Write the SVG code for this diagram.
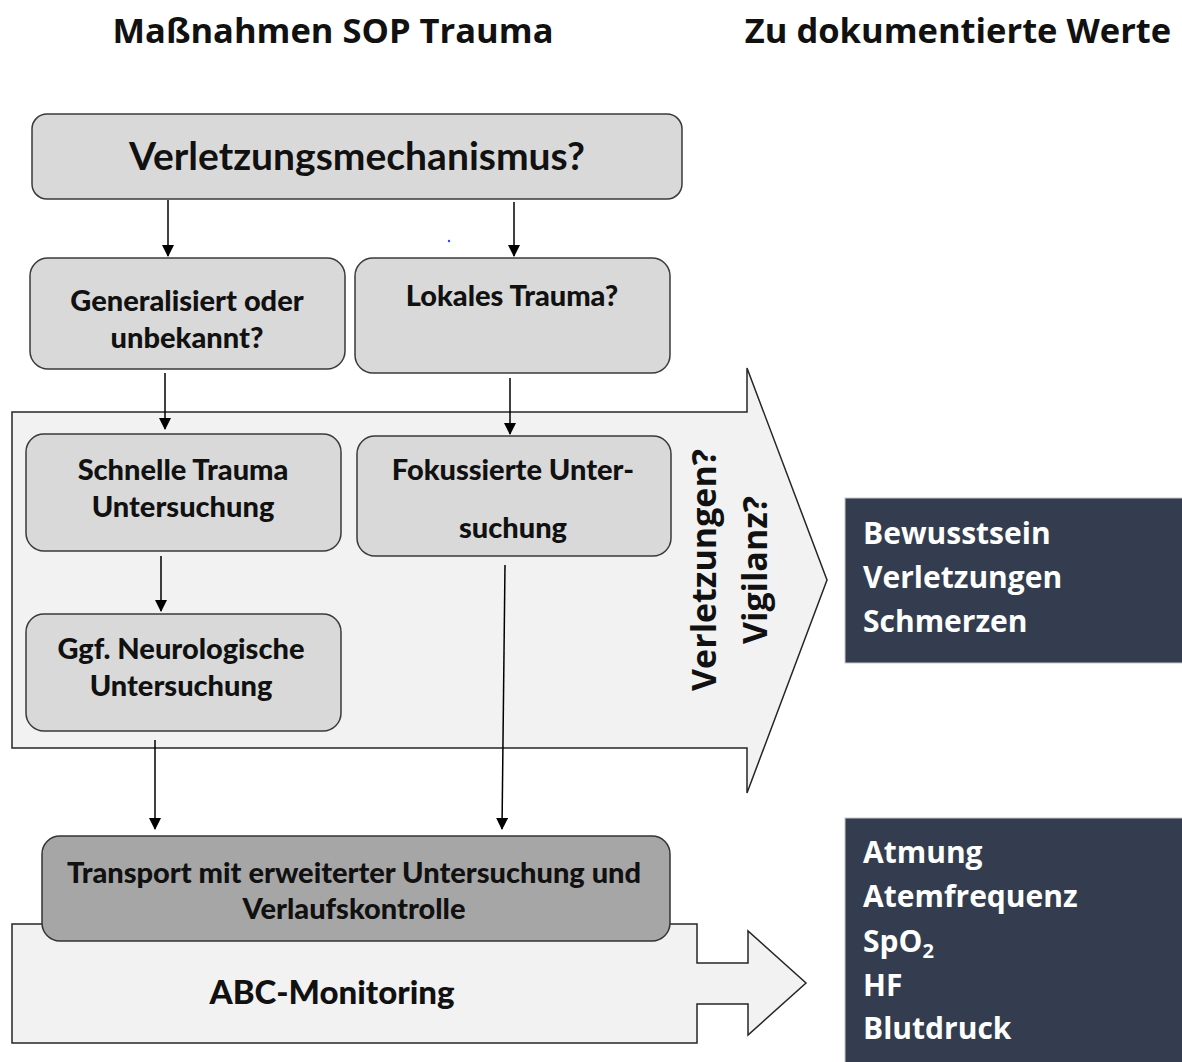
<svg xmlns="http://www.w3.org/2000/svg" width="1182" height="1062" viewBox="0 0 1182 1062">
<style>
.box{fill:#d9d9d9;stroke:#3a3a3a;stroke-width:1.5}
.big{fill:#f2f2f2;stroke:#262626;stroke-width:1.5}
.dark{fill:#333d4f;stroke:#c8c8c8;stroke-width:1}
.t{font-family:Lato,"Open Sans",sans-serif;font-weight:900;fill:#111;text-anchor:middle;font-size:29px}
.h{font-family:"Open Sans","Noto Sans",sans-serif;font-weight:bold;fill:#111}
.w{font-family:"Open Sans","Noto Sans",sans-serif;font-weight:bold;fill:#fff;font-size:30px}
.c{stroke:#000;stroke-width:1.5;fill:none;marker-end:url(#ah)}
</style>
<defs>
<marker id="ah" markerWidth="12" markerHeight="14" refX="11" refY="6" orient="auto" markerUnits="userSpaceOnUse">
<path d="M0,0 L12,6 L0,12 z" fill="#000"/>
</marker>
</defs>
<rect width="1182" height="1062" fill="#fff"/>
<text class="h" x="333" y="43" font-size="34.5" text-anchor="middle">Maßnahmen SOP Trauma</text>
<text class="h" x="958" y="43" font-size="34.5" text-anchor="middle">Zu dokumentierte Werte</text>

<g id="arrow-vigilanz">
<path class="big" d="M12,412 L747,412 L747,368 L827,580 L747,793 L747,748 L12,748 Z"/>
<text class="h" font-size="34" text-anchor="middle" transform="translate(716,570) rotate(-90)">Verletzungen?</text>
<text class="h" font-size="34" text-anchor="middle" transform="translate(767,570) rotate(-90)">Vigilanz?</text>
</g>
<g id="arrow-abc">
<path class="big" d="M12,924 L697,924 L697,963 L748,963 L748,931 L806,983 L748,1035 L748,1004 L697,1004 L697,1043 L12,1043 Z"/>
<text class="t" x="332" y="1004" style="font-size:33px">ABC-Monitoring</text>
</g>

<g id="n-mechanismus">
<rect class="box" x="32" y="114" width="650" height="85" rx="15"/>
<text class="t" x="357" y="170" style="font-size:39px;font-weight:bold">Verletzungsmechanismus?</text>
</g>
<g id="n-generalisiert">
<rect class="box" x="30" y="258" width="315" height="111" rx="18"/>
<text class="t" x="187" y="311">Generalisiert oder</text>
<text class="t" x="187" y="348">unbekannt?</text>
</g>
<g id="n-lokal">
<rect class="box" x="355" y="258" width="315" height="115" rx="18"/>
<text class="t" x="512" y="306">Lokales Trauma?</text>
</g>
<g id="n-schnell">
<rect class="box" x="26" y="434" width="315" height="117" rx="18"/>
<text class="t" x="183" y="480">Schnelle Trauma</text>
<text class="t" x="183" y="517">Untersuchung</text>
</g>
<g id="n-fokus">
<rect class="box" x="357" y="436" width="314" height="120" rx="18"/>
<text class="t" x="513" y="480">Fokussierte Unter-</text>
<text class="t" x="513" y="538">suchung</text>
</g>
<g id="n-neuro">
<rect class="box" x="26" y="614" width="315" height="117" rx="18"/>
<text class="t" x="181" y="659">Ggf. Neurologische</text>
<text class="t" x="181" y="696">Untersuchung</text>
</g>
<g id="n-transport">
<rect x="42" y="836" width="628" height="105" rx="18" fill="#a6a6a6" stroke="#333" stroke-width="1.5"/>
<text class="t" x="354" y="883">Transport mit erweiterter Untersuchung und</text>
<text class="t" x="354" y="919">Verlaufskontrolle</text>
</g>

<g id="n-werte1">
<rect class="dark" x="845" y="498" width="340" height="165"/>
<text class="w" x="863" y="544">Bewusstsein</text>
<text class="w" x="863" y="588">Verletzungen</text>
<text class="w" x="863" y="632">Schmerzen</text>
</g>
<g id="n-werte2">
<rect class="dark" x="845" y="818" width="340" height="250"/>
<text class="w" x="863" y="863">Atmung</text>
<text class="w" x="863" y="907">Atemfrequenz</text>
<text class="w" x="863" y="952">SpO<tspan font-size="20" dy="6">2</tspan></text>
<text class="w" x="863" y="996">HF</text>
<text class="w" x="863" y="1039">Blutdruck</text>
</g>

<g id="connectors">
<line class="c" x1="168" y1="200" x2="168" y2="256"/>
<line class="c" x1="514" y1="202" x2="514" y2="256"/>
<line class="c" x1="165" y1="373" x2="165" y2="429"/>
<line class="c" x1="510" y1="378" x2="510" y2="434"/>
<line class="c" x1="161" y1="556" x2="161" y2="611"/>
<line class="c" x1="155" y1="740" x2="155" y2="829"/>
<line class="c" x1="505" y1="565" x2="502" y2="829"/>
</g>
<circle cx="449" cy="241" r="1.2" fill="#3344ff"/>
</svg>
